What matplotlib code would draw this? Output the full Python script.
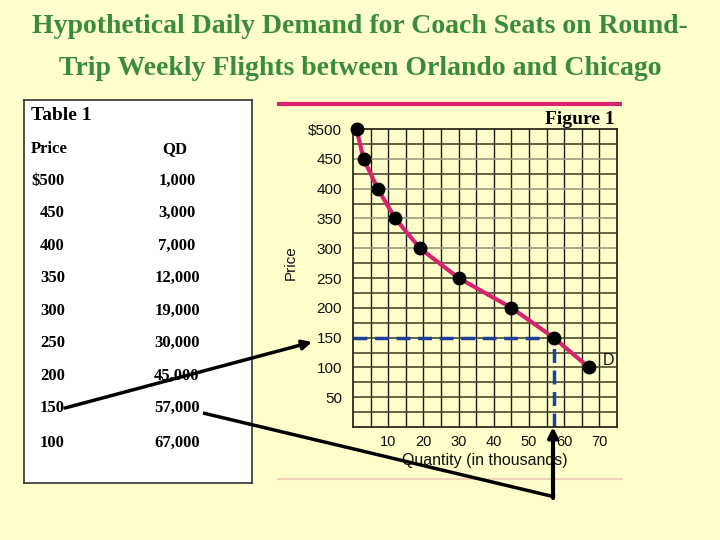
import matplotlib
matplotlib.use('Agg')
import matplotlib.pyplot as plt
import numpy as np

# Demand schedule (Table 1 / Figure 1)
prices = [500, 450, 400, 350, 300, 250, 200, 150, 100]
qd_thousands = [1, 3, 7, 12, 19, 30, 45, 57, 67]
price_labels = ['$500', '450', '400', '350', '300', '250', '200', '150', '100']
qd_labels = ['1,000', '3,000', '7,000', '12,000', '19,000', '30,000', '45,000', '57,000', '67,000']

y_ticks = [50, 100, 150, 200, 250, 300, 350, 400, 450, 500]
y_tick_labels = ['50', '100', '150', '200', '250', '300', '350', '400', '450', '$500']
x_ticks = [10, 20, 30, 40, 50, 60, 70]

highlight_price = 150
highlight_qd = 57

bg = '#ffffcc'
title_green = '#3a8c3a'
curve_col = '#d6246e'
dash_col = '#1f3d99'

fig = plt.figure(figsize=(7.2, 5.4), dpi=100, facecolor=bg)

# overlay in pixel coordinates for slide decorations
ov = fig.add_axes([0, 0, 1, 1])
ov.set_xlim(0, 720)
ov.set_ylim(540, 0)
ov.axis('off')
ov.set_zorder(3)
ov.patch.set_alpha(0)

serif = ['Liberation Serif', 'DejaVu Serif']
sans = ['Liberation Sans', 'DejaVu Sans']

ov.text(360, 33, 'Hypothetical Daily Demand for Coach Seats on Round-', ha='center', va='baseline',
        fontsize=20, fontweight='bold', family=serif, color=title_green)
ov.text(360, 75, 'Trip Weekly Flights between Orlando and Chicago', ha='center', va='baseline',
        fontsize=20, fontweight='bold', family=serif, color=title_green)

# table box
tbl = fig.add_axes([24 / 720, (540 - 483) / 540, (252 - 24) / 720, (483 - 100) / 540])
tbl.set_xticks([])
tbl.set_yticks([])
tbl.set_facecolor('white')
for s in tbl.spines.values():
    s.set_color('#333333')
    s.set_linewidth(1.2)

ov.text(31, 115, 'Table 1', ha='left', va='center', fontsize=14, fontweight='bold', family=serif)
ov.text(31, 149, 'Price', ha='left', va='center', fontsize=12, fontweight='bold', family=serif)
ov.text(175, 149, 'QD', ha='center', va='center', fontsize=12, fontweight='bold', family=serif)
row_y = [181, 213, 246, 278, 311, 343, 376, 408, 443]
for i, (pl, ql) in enumerate(zip(price_labels, qd_labels)):
    if pl.startswith('$'):
        ov.text(31, row_y[i], pl, ha='left', va='center', fontsize=12, fontweight='bold', family=serif)
    else:
        ov.text(40, row_y[i], pl, ha='left', va='center', fontsize=12, fontweight='bold', family=serif)
    ov.text(177, row_y[i], ql, ha='center', va='center', fontsize=12, fontweight='bold', family=serif)

# decorative rules
ov.plot([277, 622], [104, 104], color=curve_col, lw=3, solid_capstyle='butt')
ov.plot([278, 622], [479, 479], color='#f0d4b8', lw=1.5)
ov.text(615, 119, 'Figure 1', ha='right', va='center', fontsize=14, fontweight='bold', family=serif)

# the demand chart
ax = fig.add_axes([353 / 720, (540 - 427) / 540, (617 - 353) / 720, (427 - 129) / 540])
ax.set_facecolor(bg)
ax.set_xlim(0, 75)
ax.set_ylim(0, 500)
for xv in np.arange(5, 75, 5):
    ax.axvline(xv, color='#1a1a1a', lw=1.0, zorder=1)
for yv in np.arange(25, 500, 25):
    c = '#9c9c80' if yv % 50 == 0 and yv >= 300 else '#4a4a2a'
    ax.axhline(yv, color=c, lw=1.2, zorder=1)
for s in ax.spines.values():
    s.set_color('#2a2a1a')
    s.set_linewidth(1.3)

ax.plot([0, highlight_qd], [highlight_price, highlight_price], color=dash_col, lw=2.5,
        dashes=(4, 2.2), zorder=2, clip_on=False)
ax.plot([highlight_qd, highlight_qd], [0, highlight_price], color=dash_col, lw=2.5,
        dashes=(4, 2.2), zorder=2)
ax.plot(qd_thousands, prices, color=curve_col, lw=3, zorder=3)
ax.plot(qd_thousands, prices, 'o', color='black', ms=9, zorder=4, clip_on=False)
ax.text(72.5, 112, 'D', fontsize=11.5, family=sans, color='#111111', ha='center', va='center')

ax.set_xticks(x_ticks)
ax.set_yticks(y_ticks)
ax.set_yticklabels(y_tick_labels)
ax.tick_params(axis='y', length=0, labelsize=11, colors='#111111', pad=8)
ax.tick_params(axis='x', length=0, labelsize=10.5, colors='#111111', pad=6)
for lab in ax.get_xticklabels() + ax.get_yticklabels():
    lab.set_family(sans)
ax.set_xlabel('Quantity (in thousands)', fontsize=11.5, family=sans, color='#111111', labelpad=3)
ax.set_ylabel('Price', fontsize=11, family=sans, color='#111111')
ax.yaxis.set_label_coords(-0.208, 0.55)

# connector arrows from table to chart
ov.annotate('', xy=(312, 342), xytext=(65, 408),
            arrowprops=dict(arrowstyle='-|>', color='black', lw=2.5, mutation_scale=14, shrinkA=0, shrinkB=0))
ov.plot([203, 555], [413, 497], color='black', lw=2.5, solid_capstyle='butt')
ov.annotate('', xy=(553, 427), xytext=(553, 498),
            arrowprops=dict(arrowstyle='-|>', color='black', lw=3, mutation_scale=14, shrinkA=0, shrinkB=0))

fig.savefig('out.png', dpi=100, facecolor=bg)
